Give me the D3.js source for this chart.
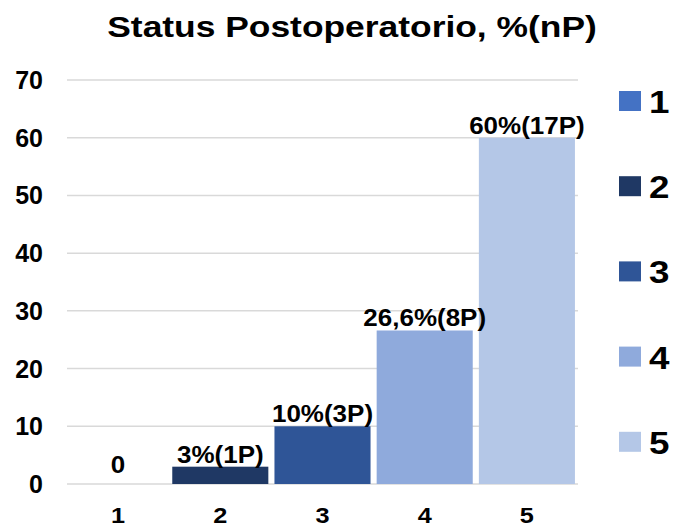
<!DOCTYPE html>
<html>
<head>
<meta charset="utf-8">
<script src="https://cdn.jsdelivr.net/npm/d3@7"></script>
<style>
	body { margin: 0; background: #fff; }
	text { font-family: "Liberation Sans", Arial, sans-serif; font-weight: bold; fill: #000; }
</style>
</head>
<body>
<script>
	"use strict";
	// chart data
	var categories = ["1", "2", "3", "4", "5"];
	var values = [0, 3, 10, 26.6, 60];
	var valueLabels = ["0", "3%(1P)", "10%(3P)", "26,6%(8P)", "60%(17P)"];
	var yTicks = [0, 10, 20, 30, 40, 50, 60, 70];
	var colors = ["#4472C4", "#1F3864", "#2F5597", "#8FAADC", "#B4C7E7"];
	var title = "Status Postoperatorio, %(nP)";

	var W = 673, H = 527;
	var svg = d3.select("body").append("svg").attr("width", W).attr("height", H);

	var x = d3.scaleBand().domain(categories).range([67, 578]).paddingInner(0.06).paddingOuter(0.03);
	var y = d3.scaleLinear().domain([0, 70]).range([484, 80]);

	// title (source picture is stretched horizontally)
	svg.append("text")
		.attr("transform", "translate(352,37) scale(1.18,1)")
		.attr("text-anchor", "middle")
		.style("font-size", "30px")
		.text(title);

	// grid
	svg.append("g").selectAll("line").data(yTicks).enter().append("line")
		.attr("x1", 67).attr("x2", 578)
		.attr("y1", function(d) { return y(d); })
		.attr("y2", function(d) { return y(d); })
		.attr("stroke", "#d9d9d9").attr("stroke-width", 1.5);

	// y axis labels
	svg.append("g").selectAll("text").data(yTicks).enter().append("text")
		.attr("x", 43)
		.attr("y", function(d) { return y(d) + 9; })
		.attr("text-anchor", "end")
		.style("font-size", "25px")
		.text(function(d) { return d; });

	// bars
	svg.append("g").selectAll("rect").data(values).enter().append("rect")
		.attr("x", function(d, i) { return x(categories[i]); })
		.attr("y", function(d) { return y(d); })
		.attr("width", x.bandwidth())
		.attr("height", function(d) { return y(0) - y(d); })
		.attr("fill", function(d, i) { return colors[i]; });

	// value labels
	svg.append("g").selectAll("text").data(values).enter().append("text")
		.attr("transform", function(d, i) {
			var lift = d === 0 ? 11 : 4;
			return "translate(" + (x(categories[i]) + x.bandwidth() / 2) + "," + (y(d) - lift) + ") scale(1.13,1)";
		})
		.attr("text-anchor", "middle")
		.style("font-size", "23px")
		.text(function(d, i) { return valueLabels[i]; });

	// x axis labels
	svg.append("g").selectAll("text").data(categories).enter().append("text")
		.attr("transform", function(d) {
			return "translate(" + (x(d) + x.bandwidth() / 2) + ",523) scale(1.15,1)";
		})
		.attr("text-anchor", "middle")
		.style("font-size", "22px")
		.text(function(d) { return d; });

	// legend
	var legend = svg.append("g").selectAll("g").data(categories).enter().append("g")
		.attr("transform", function(d, i) { return "translate(619," + (101 + i * 85.2) + ")"; });
	legend.append("rect")
		.attr("x", 0).attr("y", -10)
		.attr("width", 22).attr("height", 20)
		.attr("fill", function(d, i) { return colors[i]; });
	legend.append("text")
		.attr("transform", "translate(30,12) scale(1.15,1)")
		.style("font-size", "32px")
		.text(function(d) { return d; });
</script>
</body>
</html>
